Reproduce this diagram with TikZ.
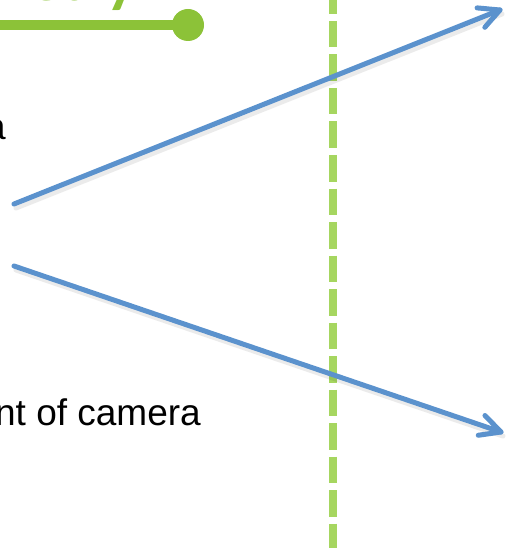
\documentclass[tikz,border=0pt]{standalone}
\usepackage{fontspec}
\setmainfont{Liberation Sans}
\newfontfamily\titlefont{Carlito}
\usetikzlibrary{calc}
\definecolor{arrowblue}{RGB}{91,146,205}
\definecolor{titlegreen}{RGB}{140,194,56}
\definecolor{dashgreen}{RGB}{166,214,96}
\begin{document}
\begin{tikzpicture}[x=1pt,y=-1pt,
  ray/.style={draw=arrowblue,line width=5pt,line cap=round,line join=round},
  rayshadow/.style={draw=black,opacity=0.08,line width=5pt,line cap=round},
  bodytext/.style={inner sep=0pt,anchor=base east,font=\fontsize{37}{40}\selectfont},
  titletext/.style={inner sep=0pt,anchor=base east,text=titlegreen,font=\titlefont\bfseries\fontsize{64}{66}\selectfont}]
\useasboundingbox (0,0) rectangle (506,548);
\clip (0,0) rectangle (506,548);
% title fragment
\node[titletext] (title) at (137,1) {Geometry};
\coordinate (barstart) at (-5,25);
\coordinate (dot) at (188,25);
\draw[titlegreen,line width=10pt] (barstart) -- (dot);
\fill[titlegreen] (dot) circle (16);
% text fragments
\node[bodytext] (frag) at (6,140) {a};
\node[bodytext] (cam) at (201,425) {nt of camera};
% dashed divider
\coordinate (dtop) at (333,-12.5);
\coordinate (dbot) at (333,560);
\draw[dashgreen,line width=8pt,dash pattern=on 26.5pt off 7pt] (dtop) -- (dbot);
% rays
\coordinate (u0) at (14,204);
\coordinate (u1) at (500,10);
\coordinate (l0) at (14,266);
\coordinate (l1) at (501,432);
\coordinate (ua) at ($(u1)!23pt!27:(u0)$);
\coordinate (ub) at ($(u1)!23pt!-27:(u0)$);
\coordinate (la) at ($(l1)!23pt!27:(l0)$);
\coordinate (lb) at ($(l1)!23pt!-27:(l0)$);
\draw[rayshadow] ([shift={(2,4)}]u0) -- ([shift={(2,4)}]u1);
\draw[rayshadow] ([shift={(2,4)}]l0) -- ([shift={(2,4)}]l1);
\draw[ray] (u0) -- (u1);
\draw[ray] (ua) -- (u1) -- (ub);
\draw[ray] (l0) -- (l1);
\draw[ray] (la) -- (l1) -- (lb);
\end{tikzpicture}
\end{document}
